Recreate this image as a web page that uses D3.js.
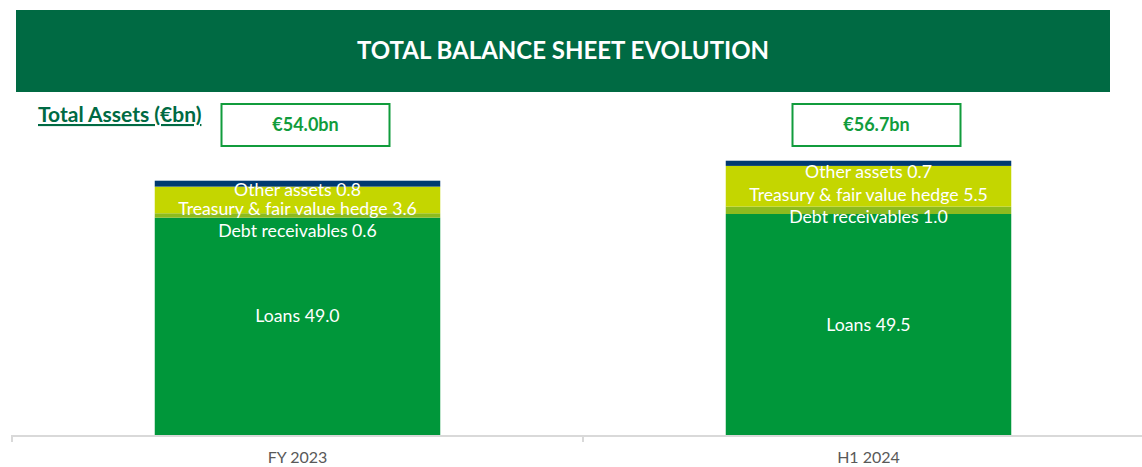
<!DOCTYPE html>
<html>
<head>
<meta charset="utf-8">
<script src="https://cdn.jsdelivr.net/npm/d3@7"></script>
<style>
  body { margin: 0; background: #fff; }
  svg { display: block; font-family: Lato, "Open Sans", sans-serif; }
</style>
</head>
<body>
<div id="chart-area"></div>
<script>
// data
var periods = ['FY 2023', 'H1 2024'];
var seriesNames = ['Loans', 'Debt receivables', 'Treasury & fair value hedge', 'Other assets'];
var loans = [49.0, 49.5];
var debtReceivables = [0.6, 1.0];
var treasury = [3.6, 5.5];
var otherAssets = [0.8, 0.7];
var totals = ['€54.0bn', '€56.7bn'];

var colors = ['#00973a', '#8dbb1e', '#c4d600', '#003a70'];
// label nudges (px) so the small segment labels don't collide
var labelShift = [
  [-11, 0],
  [15, 7],
  [9, 9],
  [6, 8]
];

var W = 1142, H = 467;
var svg = d3.select('#chart-area').append('svg')
  .attr('width', W)
  .attr('height', H);

// title band
svg.append('rect')
  .attr('x', 16).attr('y', 10)
  .attr('width', 1094).attr('height', 82)
  .attr('fill', '#006a43');
svg.append('text')
  .attr('x', 563).attr('y', 59)
  .attr('text-anchor', 'middle')
  .attr('fill', '#fff')
  .attr('font-size', '24px')
  .attr('font-weight', 'bold')
  .text('TOTAL BALANCE SHEET EVOLUTION');

svg.append('text')
  .attr('x', 38).attr('y', 122)
  .attr('fill', '#006a43')
  .attr('font-size', '21px')
  .attr('font-weight', 'bold')
  .attr('text-decoration', 'underline')
  .text('Total Assets (€bn)');

//x scale
var x = d3.scaleBand()
  .domain(periods)
  .range([12, 1154])
  .paddingInner(0.5)
  .paddingOuter(0.25);

//y scale (axis does not start at zero in the source)
var y = d3.scaleLinear()
  .domain([19.5, 59.5])
  .range([436, 140]);

var series = [loans, debtReceivables, treasury, otherAssets];
var rows = periods.map(function(p, i) {
  var r = { period: p };
  seriesNames.forEach(function(s, k) { r[s] = series[k][i]; });
  return r;
});
var stack = d3.stack().keys(seriesNames)(rows);

var layers = svg.selectAll('g.layer')
  .data(stack)
  .enter().append('g')
  .attr('class', 'layer')
  .attr('fill', function(d, k) { return colors[k]; });

layers.selectAll('rect')
  .data(function(d) { return d; })
  .enter().append('rect')
  .attr('x', function(d) { return x(d.data.period); })
  .attr('width', x.bandwidth())
  .attr('y', function(d) { return y(d[1]); })
  .attr('height', function(d) { return y(Math.max(d[0], 19.5)) - y(d[1]); });

// segment labels
stack.forEach(function(layer, k) {
  layer.forEach(function(d, i) {
    var lo = Math.max(d[0], 19.5);
    svg.append('text')
      .attr('x', x(d.data.period) + x.bandwidth() / 2)
      .attr('y', (y(lo) + y(d[1])) / 2 + labelShift[k][i])
      .attr('dy', '0.35em')
      .attr('text-anchor', 'middle')
      .attr('fill', '#fff')
      .attr('font-size', '17.7px')
      .text(seriesNames[k] + ' ' + d3.format('.1f')(d.data[seriesNames[k]]));
  });
});

// axis
var xAxis = svg.append('g')
  .attr('transform', 'translate(0,436)')
  .call(d3.axisBottom(x).tickSize(0).tickPadding(16));
xAxis.select('.domain').attr('stroke', '#d9d9d9').attr('stroke-width', 2)
  .attr('d', 'M12,6V0H1154V6');
xAxis.selectAll('text')
  .attr('fill', '#595959')
  .attr('font-size', '16px')
  .attr('font-family', 'Lato, sans-serif');
xAxis.selectAll('.tickmark')
  .data([12, 583]).enter().append('line')
  .attr('x1', function(d) { return d; }).attr('x2', function(d) { return d; })
  .attr('y1', 0).attr('y2', 6)
  .attr('stroke', '#d9d9d9').attr('stroke-width', 2);

// total boxes
periods.forEach(function(p, i) {
  var cx = x(p) + x.bandwidth() / 2 + 8;
  svg.append('rect')
    .attr('x', cx - 84).attr('y', 104)
    .attr('width', 168).attr('height', 42)
    .attr('fill', '#fff')
    .attr('stroke', '#119c3c')
    .attr('stroke-width', 2);
  svg.append('text')
    .attr('x', cx).attr('y', 125)
    .attr('dy', '0.35em')
    .attr('text-anchor', 'middle')
    .attr('fill', '#119c3c')
    .attr('font-size', '18px')
    .attr('font-weight', 'bold')
    .text(totals[i]);
});
</script>
</body>
</html>
